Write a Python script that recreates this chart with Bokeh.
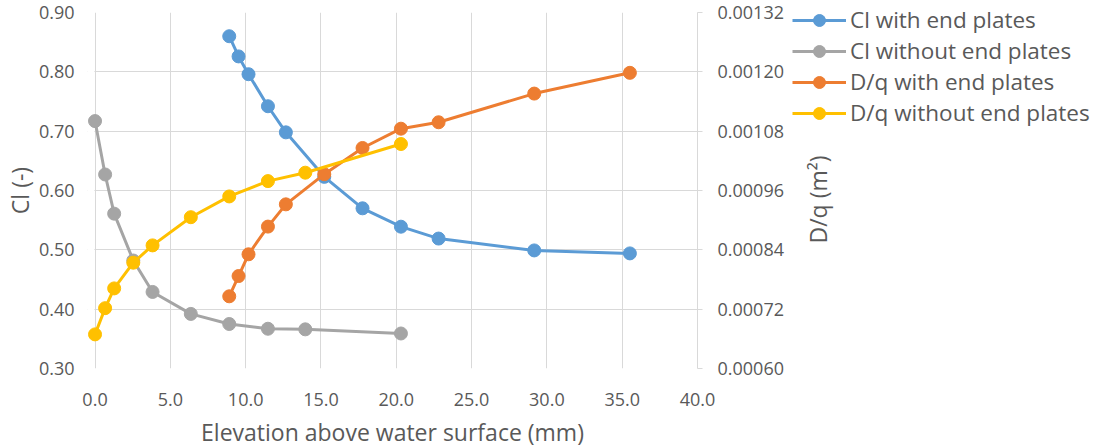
from bokeh.plotting import figure
from bokeh.layouts import row, column
from bokeh.models import (Range1d, LinearAxis, FixedTicker, NumeralTickFormatter,
                          Legend, LegendItem, Label, BoxAnnotation)
from bokeh.embed import file_html
from bokeh.resources import INLINE

# ---- data ----
x_with = [8.91, 9.53, 10.19, 11.48, 12.67, 15.22, 17.76, 20.31, 22.81, 29.16, 35.51]
cl_with = [0.860, 0.826, 0.796, 0.742, 0.698, 0.623, 0.570, 0.539, 0.519, 0.499, 0.494]
dq_with = [0.000746, 0.000787, 0.000831, 0.000887, 0.000932, 0.000993, 0.001046,
           0.001085, 0.001098, 0.001156, 0.001198]

x_without = [0.0, 0.67, 1.27, 2.54, 3.82, 6.36, 8.91, 11.48, 13.96, 20.31]
cl_without = [0.717, 0.627, 0.561, 0.482, 0.429, 0.392, 0.375, 0.367, 0.366, 0.359]
dq_without = [0.000669, 0.000722, 0.000762, 0.000814, 0.000849, 0.000906, 0.000948,
              0.000979, 0.000996, 0.001054]

x_ticks = [0, 5, 10, 15, 20, 25, 30, 35, 40]
cl_ticks = [0.30, 0.40, 0.50, 0.60, 0.70, 0.80, 0.90]
dq_ticks = [0.00060, 0.00072, 0.00084, 0.00096, 0.00108, 0.00120, 0.00132]

series_names = ["Cl with end plates", "Cl without end plates",
                "D/q with end plates", "D/q without end plates"]
colors = ["#5B9BD5", "#A5A5A5", "#ED7D31", "#FFC000"]

x_title = "Elevation above water surface (mm)"
y_title = "Cl (-)"
y2_title = "D/q (m\u00b2)"

FONT = "Open Sans"
TXT = "#595959"
GRID = "#D9D9D9"
H = 431
TOP = 12
FH = 356
XPAD = 0.5          # small blank strip left of x=0 so edge markers are not cut

data = [
    (x_with, cl_with, "default"),
    (x_without, cl_without, "default"),
    (x_with, dq_with, "dq"),
    (x_without, dq_without, "dq"),
]

# ---------------- main plot ----------------
p = figure(width=782, height=H, output_backend="svg", toolbar_location=None,
           x_range=Range1d(-XPAD, 40), y_range=Range1d(0.30, 0.90),
           frame_width=610, frame_height=FH,
           min_border_left=77, min_border_top=TOP, min_border_right=95,
           min_border_bottom=H - TOP - FH)
p.outline_line_color = None
p.extra_y_ranges = {"dq": Range1d(0.00060, 0.00132)}

p.xgrid.ticker = FixedTicker(ticks=x_ticks)
p.ygrid.ticker = FixedTicker(ticks=cl_ticks)
for g in (p.xgrid, p.ygrid):
    g.grid_line_color = GRID
    g.grid_line_width = 1

# white strip hiding the grid left of x = 0 (markers are drawn above it)
p.add_layout(BoxAnnotation(right=-0.04, fill_color="white", fill_alpha=1.0,
                           line_color=None, level="underlay"))

xa = p.xaxis[0]
xa.ticker = FixedTicker(ticks=x_ticks)
xa.formatter = NumeralTickFormatter(format="0.0")
xa.axis_label = x_title

ya = p.yaxis[0]
ya.ticker = FixedTicker(ticks=cl_ticks)
ya.formatter = NumeralTickFormatter(format="0.00")
ya.axis_label = y_title

ra = LinearAxis(y_range_name="dq", ticker=FixedTicker(ticks=dq_ticks),
                formatter=NumeralTickFormatter(format="0.00000"))
p.add_layout(ra, "right")

for ax in (xa, ya, ra):
    ax.major_label_text_font = FONT
    ax.major_label_text_font_size = "18px"
    ax.major_label_text_color = TXT
    ax.axis_label_text_font = FONT
    ax.axis_label_text_font_size = "23px"
    ax.axis_label_text_font_style = "normal"
    ax.axis_label_text_color = TXT
    ax.minor_tick_line_color = None
    ax.major_tick_in = 0

xa.axis_line_color = None
xa.major_tick_line_color = None
xa.major_tick_out = 0
xa.major_label_standoff = 24
xa.axis_label_standoff = 7

ya.axis_line_color = None
ya.major_tick_line_color = None
ya.major_tick_out = 0
ya.major_label_standoff = 13
ya.axis_label_standoff = 0

ra.axis_line_color = GRID
ra.major_tick_line_color = GRID
ra.major_tick_out = 5
ra.major_label_standoff = 15

for (xs, ys, rng), c in zip(data, colors):
    p.line(xs, ys, line_color=c, line_width=3, y_range_name=rng)
    p.scatter(xs, ys, size=13, fill_color=c, line_color=c, y_range_name=rng)

# ---------------- legend / secondary title panel ----------------
# ranges chosen so that the legend-only renderers stay outside the visible frame
QB = H - TOP - FH
q = figure(width=303, height=H, output_backend="svg", toolbar_location=None,
           x_range=Range1d(-20, -10), y_range=Range1d(-20, -10),
           x_axis_location=None, y_axis_location=None,
           min_border_left=0, min_border_right=0, min_border_top=4,
           min_border_bottom=QB)
q.outline_line_color = None
q.xgrid.visible = False
q.ygrid.visible = False

items = []
for (xs, ys, rng), name, c in zip(data, series_names, colors):
    l = q.line(xs, ys, line_color=c, line_width=3)
    s = q.scatter(xs, ys, size=13, fill_color=c, line_color=c)
    items.append(LegendItem(label=name, renderers=[l, s]))

legend = Legend(items=items, location="top_left", orientation="vertical",
                label_text_font=FONT, label_text_font_size="22.5px",
                label_text_color=TXT, glyph_width=54, glyph_height=30,
                label_height=30, label_standoff=4, spacing=0, padding=0,
                margin=0, border_line_color=None, background_fill_alpha=0)
q.add_layout(legend, "center")

q.add_layout(Label(x=25, y=169, x_units="screen", y_units="screen", text=y2_title,
                   angle=90, angle_units="deg", text_align="center",
                   text_baseline="middle", text_font=FONT, text_font_size="23px",
                   text_color=TXT))

layout = row(p, column(q, spacing=0), spacing=0)
open("out.html", "w").write(file_html(layout, INLINE))
